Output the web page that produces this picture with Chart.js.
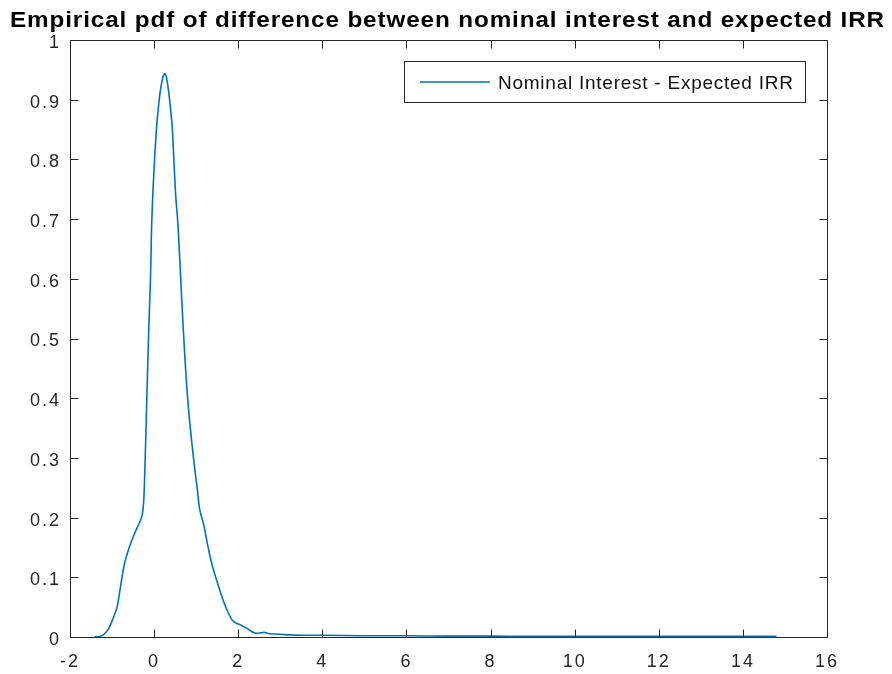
<!DOCTYPE html>
<html>
<head>
<meta charset="utf-8">
<script src="https://cdn.jsdelivr.net/npm/chart.js@4"></script>
<style>
html,body{margin:0;padding:0;background:#fff;}
#wrap{width:892px;height:674px;position:relative;}
</style>
</head>
<body>
<div id="wrap"><canvas id="c" width="892" height="674"></canvas></div>
<script>
const chartTitle = "Empirical pdf of difference between nominal interest and expected IRR";
const seriesLabel = "Nominal Interest - Expected IRR";
const xValues = [-1.42,-1.30,-1.20,-1.10,-1.04,-0.96,-0.88,-0.80,-0.72,-0.65,-0.53,-0.41,-0.32,-0.28,-0.25,-0.23,-0.20,-0.16,-0.125,-0.085,-0.06,-0.03,0.01,0.06,0.14,0.21,0.256,0.30,0.35,0.43,0.47,0.51,0.57,0.63,0.69,0.76,0.82,0.89,0.96,1.03,1.08,1.19,1.27,1.35,1.43,1.51,1.59,1.67,1.76,1.86,1.96,2.06,2.14,2.22,2.30,2.38,2.46,2.54,2.62,2.70,2.86,3.1,3.5,4,5,6,7,8,9,10,11,12,13,14,14.8];
const yValues = [0,0.001,0.004,0.012,0.02,0.034,0.05,0.084,0.118,0.137,0.162,0.182,0.196,0.206,0.225,0.257,0.330,0.436,0.520,0.604,0.687,0.743,0.799,0.855,0.911,0.938,0.944,0.935,0.911,0.855,0.799,0.743,0.687,0.604,0.520,0.436,0.380,0.330,0.285,0.246,0.215,0.185,0.155,0.129,0.108,0.090,0.072,0.056,0.041,0.028,0.023,0.020,0.017,0.014,0.010,0.007,0.006,0.007,0.008,0.006,0.005,0.004,0.003,0.003,0.002,0.002,0.0015,0.0015,0.001,0.001,0.001,0.001,0.001,0.001,0.001];
const xTicks = [-2,0,2,4,6,8,10,12,14,16];
const yTicks = [0,0.1,0.2,0.3,0.4,0.5,0.6,0.7,0.8,0.9,1];

const points = xValues.map((x,i)=>({x:x,y:yValues[i]}));
const AX = '#262626';
const FONT = '"Liberation Sans", Arial, sans-serif';

function fitSpacing(ctx, text, target){
  ctx.letterSpacing = '0px';
  const w = ctx.measureText(text).width;
  return Math.max(0, (target - w) / (text.length - 1));
}

const framePlugin = {
  id:'frame',
  beforeDraw(chart){ chart.ctx.letterSpacing = '2px'; },
  afterDatasetsDraw(chart){
    const ctx = chart.ctx, a = chart.chartArea;
    const xs = chart.scales.x, ys = chart.scales.y;
    ctx.save();
    ctx.letterSpacing = '0px';
    ctx.strokeStyle = AX; ctx.lineWidth = 1;
    const L = Math.round(a.left)+0.5, R = Math.round(a.right)+0.5, T = Math.round(a.top)+0.5, B = Math.round(a.bottom)+0.5;
    ctx.beginPath();
    ctx.rect(L, T, R-L, B-T);
    const tl = 8;
    xTicks.forEach(v=>{
      const p = Math.round(xs.getPixelForValue(v))+0.5;
      ctx.moveTo(p,B); ctx.lineTo(p,B-tl);
      ctx.moveTo(p,T); ctx.lineTo(p,T+tl);
    });
    yTicks.forEach(v=>{
      const p = Math.round(ys.getPixelForValue(v))+0.5;
      ctx.moveTo(L,p); ctx.lineTo(L+tl,p);
      ctx.moveTo(R,p); ctx.lineTo(R-tl,p);
    });
    ctx.stroke();
    // title: slightly stretched horizontally to match reference width
    ctx.fillStyle = '#000';
    ctx.font = 'bold 22px ' + FONT;
    ctx.letterSpacing = '0.8px';
    const tw = ctx.measureText(chartTitle).width;
    const sx = 875 / tw;
    ctx.save();
    ctx.translate(10, 27);
    ctx.scale(sx, 1);
    ctx.textAlign = 'left'; ctx.textBaseline = 'alphabetic';
    ctx.fillText(chartTitle, 0, 0);
    ctx.restore();
    // legend
    ctx.letterSpacing = '0px';
    const lx = 404.5, ly = 61.5, lw = 401, lh = 41;
    ctx.fillStyle = '#fff';
    ctx.fillRect(lx, ly, lw, lh);
    ctx.strokeStyle = AX;
    ctx.strokeRect(lx, ly, lw, lh);
    ctx.strokeStyle = '#0072BD'; ctx.lineWidth = 1.5;
    ctx.beginPath(); ctx.moveTo(420, ly+lh/2); ctx.lineTo(490, ly+lh/2); ctx.stroke();
    ctx.fillStyle = '#111';
    ctx.font = '19px ' + FONT;
    const ls = fitSpacing(ctx, seriesLabel, 295);
    ctx.letterSpacing = ls.toFixed(2) + 'px';
    ctx.textAlign = 'left'; ctx.textBaseline = 'alphabetic';
    ctx.fillText(seriesLabel, 498, 89);
    ctx.restore();
    ctx.letterSpacing = '0px';
  }
};

new Chart(document.getElementById('c'), {
  type:'scatter',
  data:{datasets:[{label:seriesLabel,data:points,showLine:true,borderColor:'#0072BD',backgroundColor:'#0072BD',borderWidth:1.6,pointRadius:0,tension:0.25}]},
  options:{
    responsive:false, animation:false, devicePixelRatio:1,
    layout:{padding:{left:0,top:40,right:65,bottom:0}},
    plugins:{legend:{display:false},title:{display:false},tooltip:{enabled:false}},
    scales:{
      x:{type:'linear',min:-2,max:16,
        afterBuildTicks(s){s.ticks = xTicks.map(v=>({value:v}));},
        afterFit(s){s.height = 37;},
        grid:{display:false,drawTicks:false},border:{display:false},
        ticks:{color:AX,font:{family:FONT,size:18},padding:14,maxRotation:0,autoSkip:false,callback:v=>String(v)}},
      y:{type:'linear',min:0,max:1,
        afterBuildTicks(s){s.ticks = yTicks.map(v=>({value:v}));},
        afterFit(s){s.width = 70;},
        grid:{display:false,drawTicks:false},border:{display:false},
        ticks:{color:AX,font:{family:FONT,size:18},padding:9,labelOffset:3,autoSkip:false,callback:v=>String(Math.round(v*10)/10)}}
    }
  },
  plugins:[framePlugin]
});
</script>
</body>
</html>
